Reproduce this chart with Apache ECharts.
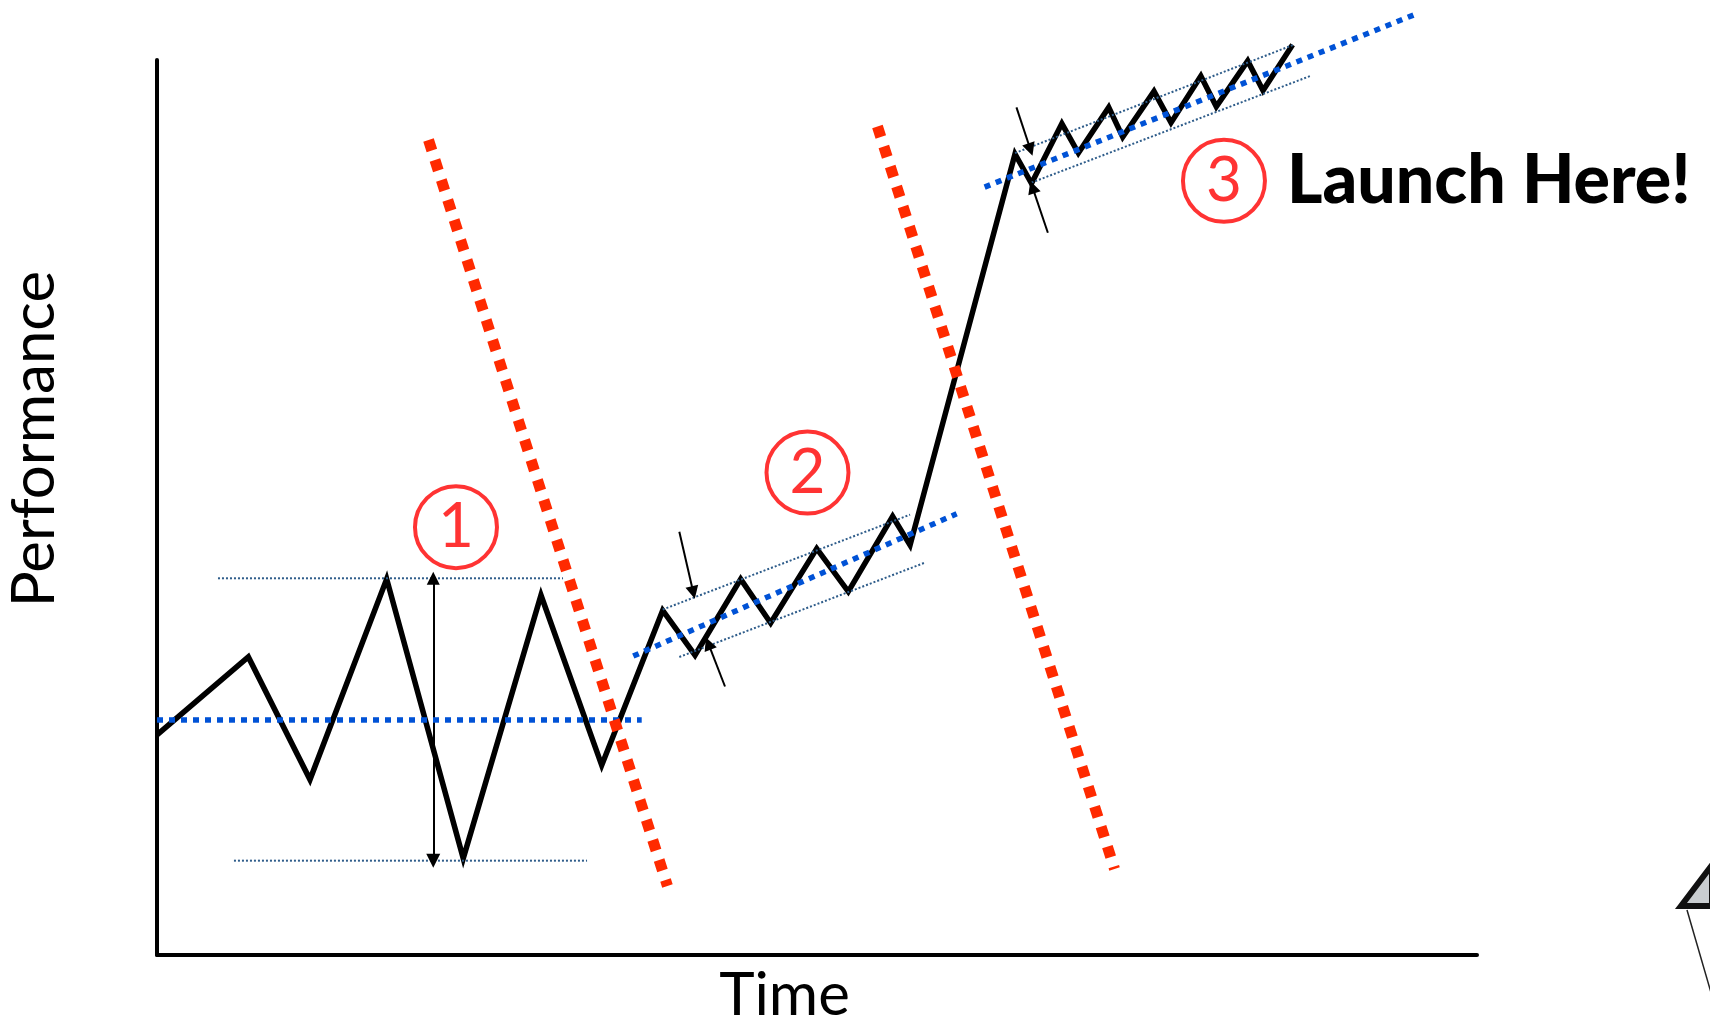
<!DOCTYPE html>
<html>
<head>
<meta charset="utf-8">
<title>Performance over Time</title>
<script src="https://cdn.jsdelivr.net/npm/echarts@6/dist/echarts.min.js"></script>
<style>
html, body { margin: 0; padding: 0; background: #fff; }
#chart { width: 1710px; height: 1021px; }
</style>
</head>
<body>
<div id="chart"></div>
<script>
// Performance curve: noisy start, tighter uptrend, steep jump, then a steady climb
const perfTime  = [0, 6.92, 11.59, 17.40, 23.20, 29.09, 33.69, 38.31, 40.76, 44.22, 46.49, 49.98, 52.37, 55.73, 57.05,
                   65.00, 66.25, 68.55, 69.80, 72.10, 73.16, 75.53, 76.82, 79.08, 80.25, 82.63, 83.79, 86.03];
const perfValue = [24.6, 33.3, 19.6, 42.0, 10.8, 40.2, 21.2, 38.5, 33.5, 42.0, 37.1, 45.4, 40.6, 49.0, 45.8,
                   89.5, 86.2, 92.9, 89.6, 94.7, 91.4, 96.5, 93.0, 98.2, 94.8, 99.9, 96.6, 101.7];

// Trend line of each phase: [x0, y0, x1, y1]
const trendPhase1 = [0, 26.26, 36.72, 26.26];
const trendPhase2 = [36.08, 33.4, 60.58, 49.3];
const trendPhase3 = [62.70, 85.8, 95.49, 105.2];

// Upper and lower envelope of each phase
const bandPhase1 = [[4.62, 42.09, 30.76, 42.09], [5.83, 10.54, 32.58, 10.54]];
const bandPhase2 = [[38.31, 38.6, 57.05, 49.2], [39.57, 33.3, 58.11, 43.8]];
const bandPhase3 = [[65.0, 89.6, 86.10, 101.7], [66.25, 86.3, 87.34, 98.2]];

// Phase boundaries
const boundary1 = [20.57, 91.06, 38.67, 7.71];
const boundary2 = [54.58, 92.57, 72.54, 9.61];

// Spread markers: [x0, y0, x1, y1], head at the second point
const rangeArrow = [20.93, 42.09, 20.93, 10.54];   // double-headed
const spreadArrows = [
  [39.57, 47.3, 40.63, 40.5],
  [43.03, 30.0, 41.77, 34.8],
  [65.11, 94.7, 66.17, 90.0],
  [67.49, 80.7, 66.32, 85.8]
];

// Phase badges
const phaseX = [22.65, 49.28, 80.83];
const phaseY = [47.8, 53.9, 86.5];
const phaseLabels = ['1', '2', '3'];
const launchText = 'Launch Here!';

const FONT = 'Lato, "Open Sans", sans-serif';
const seg = a => [[a[0], a[1]], [a[2], a[3]]];

function dottedLine(points, color, width, dash, z) {
  return {
    type: 'line', data: points, symbol: 'none', showSymbol: false, silent: true,
    clip: false, z: z, animation: false,
    lineStyle: { color: color, width: width, type: dash, cap: 'butt' }
  };
}

const series = [];

// main performance line
series.push({
  type: 'line',
  data: perfTime.map((t, i) => [t, perfValue[i]]),
  symbol: 'none', showSymbol: false, silent: true, clip: false, z: 2, animation: false,
  lineStyle: { color: '#000', width: 5.5, join: 'miter', miterLimit: 10 }
});

// envelopes
[bandPhase1, bandPhase2, bandPhase3].forEach(b => {
  b.forEach(l => series.push(dottedLine(seg(l), '#2E5C8A', 2, [2, 2], 3)));
});

// trend lines
[trendPhase1, trendPhase2, trendPhase3].forEach(t => {
  series.push(dottedLine(seg(t), '#0052D6', 5.5, [6, 6], 4));
});

// phase boundaries
[boundary1, boundary2].forEach(b => {
  series.push(dottedLine(seg(b), '#FF2A00', 11, [11, 10], 5));
});

// spread arrows
series.push({
  type: 'lines', coordinateSystem: 'cartesian2d', silent: true, z: 4, animation: false, clip: false,
  symbol: ['triangle', 'triangle'], symbolSize: [13, 14], symbolOffset: [[0, 7], [0, 7]],
  lineStyle: { color: '#000', width: 2, opacity: 1 },
  data: [{ coords: seg(rangeArrow) }]
});
series.push({
  type: 'lines', coordinateSystem: 'cartesian2d', silent: true, z: 4, animation: false, clip: false,
  symbol: ['none', 'triangle'], symbolSize: [11, 13], symbolOffset: [[0, 0], [0, 6.5]],
  lineStyle: { color: '#000', width: 2, opacity: 1 },
  data: spreadArrows.map(a => ({ coords: seg(a) }))
});

// phase badges
series.push({
  type: 'scatter', silent: true, z: 6, animation: false, clip: false,
  data: phaseX.map((x, i) => [x, phaseY[i]]),
  symbol: 'circle', symbolSize: 82,
  itemStyle: { color: 'rgba(255,255,255,0)', borderColor: '#FF0000', borderWidth: 4 },
  label: {
    show: true, position: 'inside',
    formatter: p => phaseLabels[p.dataIndex],
    color: '#FF0000', fontSize: 62, fontFamily: FONT
  }
});

// launch call-out next to the last badge
series.push({
  type: 'scatter', silent: true, z: 6, animation: false, clip: false,
  data: [[phaseX[2], phaseY[2]]],
  symbol: 'circle', symbolSize: 82,
  itemStyle: { color: 'rgba(255,255,255,0)' },
  label: {
    show: true, position: 'right', distance: 22,
    formatter: launchText,
    color: '#000000', opacity: 1, fontSize: 68, fontWeight: 900, fontFamily: FONT
  }
});

const option = {
  animation: false,
  backgroundColor: '#fff',
  grid: { left: 157, top: 60, right: 233, bottom: 66, containLabel: false, outerBoundsMode: 'none' },
  xAxis: {
    type: 'value', min: 0, max: 100,
    axisLine: { show: true, onZero: false, lineStyle: { color: '#000', width: 4 } },
    axisTick: { show: false }, axisLabel: { show: false }, splitLine: { show: false },
    name: 'Time', nameLocation: 'middle', nameGap: 11,
    nameTextStyle: { color: '#000', fontSize: 60, fontFamily: FONT, padding: [0, 65, 0, 0] }
  },
  yAxis: {
    type: 'value', min: 0, max: 100,
    axisLine: { show: true, onZero: false, lineStyle: { color: '#000', width: 4 } },
    axisTick: { show: false }, axisLabel: { show: false }, splitLine: { show: false },
    name: 'Performance', nameLocation: 'middle', nameGap: 92, nameRotate: 90,
    nameTextStyle: { color: '#000', fontSize: 60, fontFamily: FONT, padding: [0, 0, 0, 137] }
  },
  graphic: [
    {
      type: 'polygon', silent: true,
      shape: { points: [[1681, 906], [1712, 865], [1712, 906]] },
      style: { fill: '#c9cdd0', stroke: '#111', lineWidth: 6, lineJoin: 'miter' }
    },
    {
      type: 'line', silent: true,
      shape: { x1: 1687, y1: 910, x2: 1712, y2: 996 },
      style: { stroke: '#222', lineWidth: 1.5 }
    }
  ],
  series: series
};

const chart = echarts.init(document.getElementById('chart'), null, { renderer: 'canvas' });
chart.setOption(option);
</script>
</body>
</html>
